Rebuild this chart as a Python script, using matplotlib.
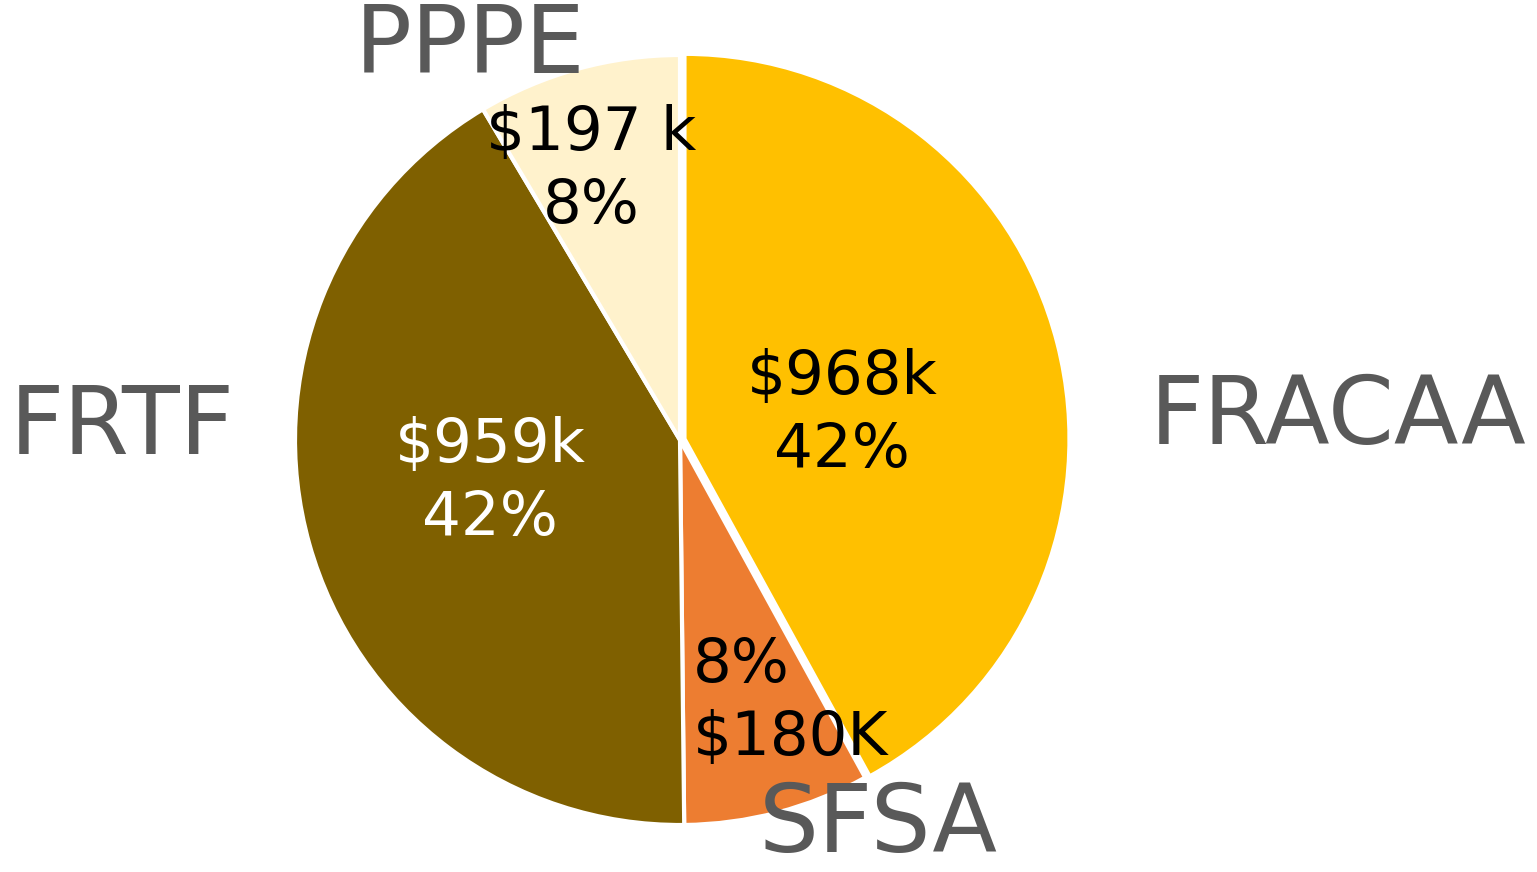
import matplotlib
matplotlib.use("Agg")
import matplotlib.pyplot as plt

# ── Data ──────────────────────────────────────────────────────────────────────
categories = ["FRACAA", "SFSA", "FRTF", "PPPE"]
values_k = [968, 180, 959, 197]
value_labels = ["$968k\n42%", "8%\n$180K", "$959k\n42%", "$197 k\n8%"]
colors = ["#FFC000", "#ED7D31", "#7F6000", "#FFF2CC"]

W, H = 1537, 872
CX, CY, R = 680, 440, 385   # pie centre / radius in pixels


def px(x, y):
    """pixel coords (top-left origin) → data coords (pie radius = 1)."""
    return (x - CX) / R, (CY - y) / R


plt.rcParams["font.family"] = ["DejaVu Sans"]

fig = plt.figure(figsize=(W / 100, H / 100), dpi=100)
ax = fig.add_axes([0, 0, 1, 1])

ax.pie(values_k, colors=colors, startangle=90, counterclock=False,
       explode=[0.012, 0, 0, 0], radius=1,
       wedgeprops=dict(edgecolor="white", linewidth=3))

ax.set_xlim(-CX / R, (W - CX) / R)
ax.set_ylim(-(H - CY) / R, CY / R)
ax.set_aspect("equal")
ax.axis("off")

# category names
cat_pos = [(1338, 418), (878, 826), (122, 428), (470, 47)]
for name, (x, y) in zip(categories, cat_pos):
    ax.text(*px(x, y), name, ha="center", va="center",
            fontsize=68, color="#595959")

# value labels
val_pos = [(842, 414), (693, 702), (490, 482), (591, 170)]
val_ha = ["center", "left", "center", "center"]
val_ma = ["center", "left", "center", "center"]
val_col = ["black", "black", "white", "black"]
for lab, (x, y), ha, ma, c in zip(value_labels, val_pos, val_ha, val_ma, val_col):
    ax.text(*px(x, y), lab, ha=ha, va="center", multialignment=ma,
            fontsize=44, color=c, linespacing=1.32)

fig.savefig("out.png", dpi=100)
